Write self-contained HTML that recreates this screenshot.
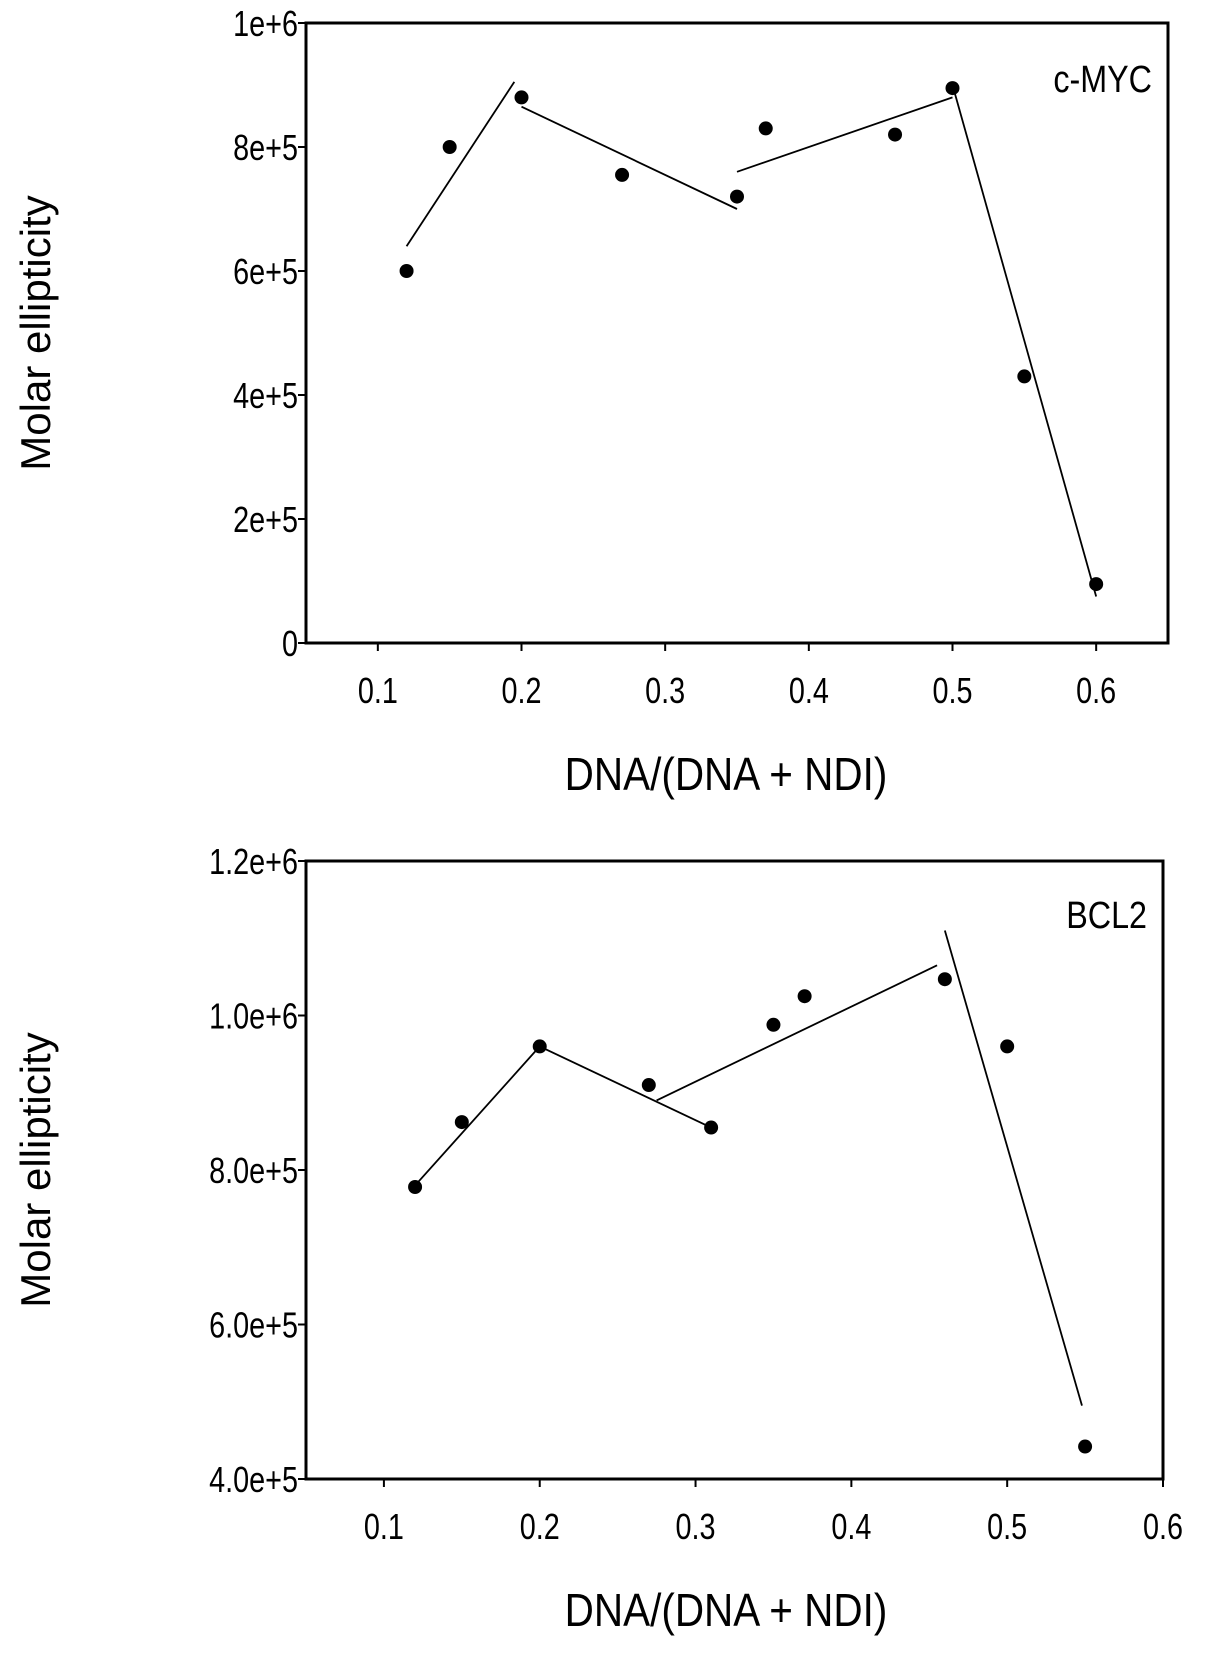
<!DOCTYPE html>
<html><head><meta charset="utf-8"><style>
body{margin:0;background:#fff}
svg text{font-family:"Liberation Sans",sans-serif;fill:#000}
</style></head><body>
<svg id="c" width="1205" height="1652" xmlns="http://www.w3.org/2000/svg"></svg>
<script>
const topX=[0.12,0.15,0.2,0.27,0.35,0.37,0.46,0.5,0.55,0.6];
const topY=[6.0e5,8.0e5,8.8e5,7.55e5,7.2e5,8.3e5,8.2e5,8.95e5,4.3e5,9.5e4];
const topFitX=[[0.12,0.195],[0.2,0.35],[0.35,0.5],[0.5,0.6]];
const topFitY=[[6.4e5,9.05e5],[8.65e5,7.0e5],[7.6e5,8.8e5],[9.0e5,7.5e4]];
const topXTicks=[0.1,0.2,0.3,0.4,0.5,0.6];
const topYTicks=[0,2e5,4e5,6e5,8e5,1e6];
const topYLabels=["0","2e+5","4e+5","6e+5","8e+5","1e+6"];
const botX=[0.12,0.15,0.2,0.27,0.31,0.35,0.37,0.46,0.5,0.55];
const botY=[7.78e5,8.62e5,9.6e5,9.1e5,8.55e5,9.88e5,1.025e6,1.047e6,9.6e5,4.42e5];
const botFitX=[[0.12,0.2],[0.2,0.31],[0.275,0.455],[0.46,0.548]];
const botFitY=[[7.8e5,9.6e5],[9.6e5,8.55e5],[8.9e5,1.065e6],[1.11e6,4.95e5]];
const botXTicks=[0.1,0.2,0.3,0.4,0.5,0.6];
const botYTicks=[4e5,6e5,8e5,1e6,1.2e6];
const botYLabels=["4.0e+5","6.0e+5","8.0e+5","1.0e+6","1.2e+6"];
const svg=document.getElementById('c');
const NS="http://www.w3.org/2000/svg";
function mk(t,a,p){const e=document.createElementNS(NS,t);for(const k in a)e.setAttribute(k,a[k]);(p||svg).appendChild(e);return e;}
function sc(x,s){return `translate(${x},0) scale(${s},1) translate(${-x},0)`;}
function panel(name,o){
 const g=mk('g',{});
 
 
 const sx=v=>o.l+(v-o.x0)/(o.x1-o.x0)*(o.r-o.l);
 const sy=v=>o.b-(v-o.y0)/(o.y1-o.y0)*(o.b-o.t);
 const fr=mk('path',{d:`M${o.l},${o.t}H${o.r}V${o.b}H${o.l}Z`,fill:'none',stroke:'#000','stroke-width':3},g);
 
 
 o.xt.forEach(v=>{
  mk('line',{x1:sx(v),x2:sx(v),y1:o.b,y2:o.b+8,stroke:'#000','stroke-width':2},g);
  const t=mk('text',{x:sx(v),y:o.b+60,'text-anchor':'middle','font-size':36,transform:sc(sx(v),0.8)},g);
  t.textContent=String(v);
  
  
 });
 o.yt.forEach((v,i)=>{
  mk('line',{x1:o.l-8,x2:o.l,y1:sy(v),y2:sy(v),stroke:'#000','stroke-width':2},g);
  const t=mk('text',{x:o.l-8,y:sy(v)+13,'text-anchor':'end','font-size':36,transform:sc(o.l-8,0.8)},g);
  t.textContent=o.yl[i];
  
  
 });
 o.fx.forEach((s,i)=>{
  const l=mk('line',{x1:sx(s[0]),x2:sx(s[1]),y1:sy(o.fy[i][0]),y2:sy(o.fy[i][1]),stroke:'#000','stroke-width':1.8},g);
  
  
 });
 o.x.forEach((v,i)=>{
  const c=mk('circle',{cx:sx(v),cy:sy(o.y[i]),r:7,fill:'#000'},g);
  
  
 });
 const lab=mk('text',{x:o.r-16,y:o.labY,'text-anchor':'end','font-size':38,transform:sc(o.r-16,0.85)},g);
 lab.textContent=o.label;
 
 
 const yt=mk('text',{x:0,y:0,'text-anchor':'middle','font-size':42,transform:`translate(50,${(o.t+o.b)/2}) rotate(-90)`},g);
 yt.textContent='Molar ellipticity';
 
 
 const xt=mk('text',{x:726,y:o.b+147,'text-anchor':'middle','font-size':46,transform:sc(726,0.88)},g);
 xt.textContent='DNA/(DNA + NDI)';
 
 
}
panel('cmyc-panel',{l:306,r:1168,t:23,b:643,x0:0.05,x1:0.65,y0:0,y1:1e6,x:topX,y:topY,fx:topFitX,fy:topFitY,xt:topXTicks,yt:topYTicks,yl:topYLabels,label:'c-MYC',labY:92});
panel('bcl2-panel',{l:306,r:1163,t:861,b:1479,x0:0.05,x1:0.6,y0:4e5,y1:1.2e6,x:botX,y:botY,fx:botFitX,fy:botFitY,xt:botXTicks,yt:botYTicks,yl:botYLabels,label:'BCL2',labY:928});
</script>
</body></html>
